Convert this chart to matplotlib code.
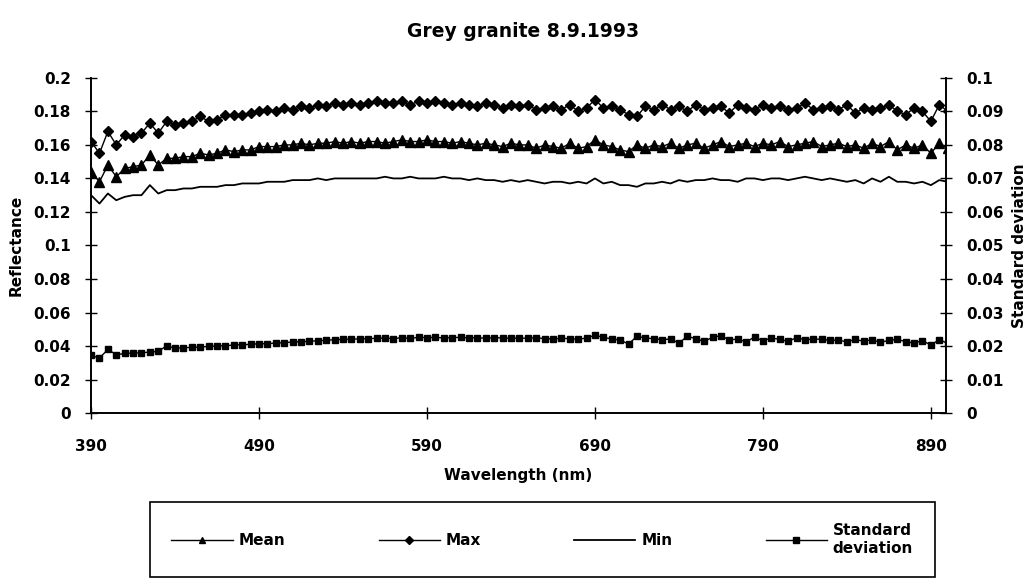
import matplotlib.pyplot as plt
import numpy as np

wavelength = list(range(390, 901, 5))

max_refl = [
    0.162, 0.155, 0.168, 0.160, 0.166, 0.165, 0.167, 0.173, 0.167, 0.174, 0.172,
    0.173, 0.174, 0.177, 0.174, 0.175, 0.178, 0.178, 0.178, 0.179, 0.180,
    0.181, 0.180, 0.182, 0.181, 0.183, 0.182, 0.184, 0.183, 0.185, 0.184,
    0.185, 0.184, 0.185, 0.186, 0.185, 0.185, 0.186, 0.184, 0.186, 0.185,
    0.186, 0.185, 0.184, 0.185, 0.184, 0.183, 0.185, 0.184, 0.182, 0.184,
    0.183, 0.184, 0.181, 0.182, 0.183, 0.181, 0.184, 0.180, 0.182, 0.187,
    0.182, 0.183, 0.181, 0.178, 0.177, 0.183, 0.181, 0.184, 0.181, 0.183,
    0.180, 0.184, 0.181, 0.182, 0.183, 0.179, 0.184, 0.182, 0.181, 0.184,
    0.182, 0.183, 0.181, 0.182, 0.185, 0.181, 0.182, 0.183, 0.181, 0.184,
    0.179, 0.182, 0.181, 0.182, 0.184, 0.180, 0.178, 0.182, 0.180, 0.174,
    0.184, 0.180,
]

mean_refl = [
    0.144, 0.138, 0.148, 0.141, 0.146, 0.147, 0.148, 0.154, 0.148, 0.152, 0.152,
    0.153, 0.153, 0.155, 0.154, 0.155, 0.157, 0.156, 0.157, 0.157, 0.159,
    0.159, 0.159, 0.160, 0.160, 0.161, 0.160, 0.161, 0.161, 0.162, 0.161,
    0.162, 0.161, 0.162, 0.162, 0.161, 0.162, 0.163, 0.162, 0.162, 0.163,
    0.162, 0.162, 0.161, 0.162, 0.161, 0.160, 0.161, 0.160, 0.159, 0.161,
    0.160, 0.160, 0.158, 0.160, 0.159, 0.158, 0.161, 0.158, 0.159, 0.163,
    0.160, 0.159, 0.157, 0.156, 0.160, 0.158, 0.160, 0.159, 0.161, 0.158,
    0.160, 0.161, 0.158, 0.160, 0.162, 0.159, 0.160, 0.161, 0.159, 0.161,
    0.160, 0.162, 0.159, 0.160, 0.161, 0.162, 0.159, 0.160, 0.161, 0.159,
    0.160, 0.158, 0.161, 0.159, 0.162, 0.157, 0.160, 0.158, 0.160, 0.155,
    0.161, 0.158,
]

min_refl = [
    0.130, 0.125, 0.131, 0.127, 0.129, 0.130, 0.130, 0.136, 0.131, 0.133, 0.133,
    0.134, 0.134, 0.135, 0.135, 0.135, 0.136, 0.136, 0.137, 0.137, 0.137,
    0.138, 0.138, 0.138, 0.139, 0.139, 0.139, 0.140, 0.139, 0.140, 0.140,
    0.140, 0.140, 0.140, 0.140, 0.141, 0.140, 0.140, 0.141, 0.140, 0.140,
    0.140, 0.141, 0.140, 0.140, 0.139, 0.140, 0.139, 0.139, 0.138, 0.139,
    0.138, 0.139, 0.138, 0.137, 0.138, 0.138, 0.137, 0.138, 0.137, 0.140,
    0.137, 0.138, 0.136, 0.136, 0.135, 0.137, 0.137, 0.138, 0.137, 0.139,
    0.138, 0.139, 0.139, 0.140, 0.139, 0.139, 0.138, 0.140, 0.140, 0.139,
    0.140, 0.140, 0.139, 0.140, 0.141, 0.140, 0.139, 0.140, 0.139, 0.138,
    0.139, 0.137, 0.140, 0.138, 0.141, 0.138, 0.138, 0.137, 0.138, 0.136,
    0.139, 0.138,
]

std_dev = [
    0.0172, 0.0164, 0.0190, 0.0174, 0.0178, 0.0179, 0.0180, 0.0182, 0.0184, 0.0201, 0.0193,
    0.0195, 0.0196, 0.0197, 0.0199, 0.0200, 0.0201, 0.0203, 0.0204, 0.0205, 0.0207,
    0.0207, 0.0209, 0.0210, 0.0212, 0.0213, 0.0214, 0.0216, 0.0217, 0.0219, 0.0220,
    0.0221, 0.0221, 0.0222, 0.0223, 0.0224, 0.0222, 0.0225, 0.0223, 0.0226, 0.0225,
    0.0226, 0.0224, 0.0225, 0.0226, 0.0224, 0.0225, 0.0223, 0.0225, 0.0224, 0.0223,
    0.0224, 0.0223, 0.0225, 0.0222, 0.0221, 0.0223, 0.0222, 0.0220, 0.0224, 0.0232,
    0.0226, 0.0221, 0.0218, 0.0206, 0.0229, 0.0224, 0.0222, 0.0219, 0.0221, 0.0209,
    0.0229, 0.0222, 0.0214, 0.0226, 0.0231, 0.0218, 0.0221, 0.0212, 0.0227, 0.0216,
    0.0224, 0.0220, 0.0214, 0.0225, 0.0219, 0.0221, 0.0220, 0.0217, 0.0218, 0.0212,
    0.0220, 0.0214, 0.0219, 0.0211, 0.0217, 0.0220, 0.0213, 0.0209, 0.0216, 0.0203,
    0.0219, 0.0208,
]

plt.rcParams["font.family"] = "DejaVu Sans"
plt.rcParams["font.weight"] = "bold"

fig = plt.figure(figsize=(10.35, 5.81), dpi=100)
ax = fig.add_axes([0.088, 0.289, 0.826, 0.577])
ax2 = ax.twinx()

l_mean, = ax.plot(wavelength, mean_refl, color="black", lw=1, marker="^", ms=6.5)
l_max, = ax.plot(wavelength, max_refl, color="black", lw=1, marker="D", ms=5.5)
l_min, = ax.plot(wavelength, min_refl, color="black", lw=1.3)
l_std, = ax2.plot(wavelength, std_dev, color="black", lw=1, marker="s", ms=5)

ax.set_xlim(390, 899)
ax.set_ylim(0, 0.2)
ax2.set_ylim(0, 0.1)
ax.set_xticks(np.arange(390, 891, 100))
ax.set_yticks(np.arange(0, 0.201, 0.02))
ax2.set_yticks(np.arange(0, 0.101, 0.01))
ax.set_yticklabels(["0"] + [f"{v:g}" for v in np.round(np.arange(0.02, 0.201, 0.02), 2)])
ax2.set_yticklabels(["0"] + [f"{v:g}" for v in np.round(np.arange(0.01, 0.101, 0.01), 2)])

for a in (ax, ax2):
    a.spines["top"].set_visible(False)
    a.tick_params(direction="inout", length=9, width=1, labelsize=11)
    for s in a.spines.values():
        s.set_linewidth(1.2)
ax.tick_params(axis="x", pad=14)
ax.tick_params(axis="y", pad=10)
ax2.tick_params(axis="y", pad=10)

ax.set_xlabel("Wavelength (nm)", fontsize=11, fontweight="bold", labelpad=10)
ax.set_ylabel("Reflectance", fontsize=11, fontweight="bold", labelpad=7)
ax2.set_ylabel("Standard deviation", fontsize=11, fontweight="bold", labelpad=6)
fig.text(0.505, 0.945, "Grey granite 8.9.1993", ha="center", va="center",
         fontsize=13.5, fontweight="bold")

leg = fig.legend([l_mean, l_max, l_min, l_std],
                 ["Mean", "Max", "Min", "Standard\ndeviation"],
                 loc="center", ncol=4, mode="expand",
                 bbox_to_anchor=(0.145, 0.005, 0.758, 0.133),
                 fancybox=False, edgecolor="black", framealpha=1,
                 handlelength=4.0, handletextpad=0.4, fontsize=11,
                 borderaxespad=0, borderpad=1.4, markerscale=0.75)
leg.get_frame().set_linewidth(1.2)

fig.savefig("out.png", dpi=100)
